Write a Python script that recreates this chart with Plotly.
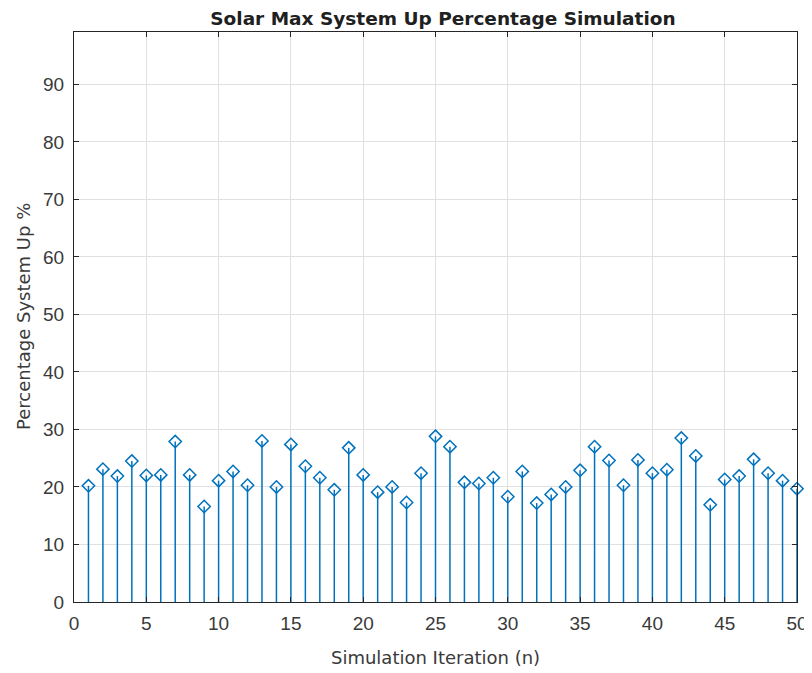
import plotly.graph_objects as go

iterations = list(range(1, 51))
percent_up = [20.2, 23.1, 21.9, 24.5, 22.0, 22.1, 27.9, 22.1, 16.6, 21.1,
              22.7, 20.3, 28.0, 20.0, 27.4, 23.6, 21.6, 19.5, 26.8, 22.1,
              19.1, 20.0, 17.3, 22.4, 28.8, 27.0, 20.8, 20.6, 21.6, 18.3,
              22.7, 17.2, 18.7, 20.0, 22.9, 27.0, 24.6, 20.3, 24.7, 22.4,
              23.0, 28.5, 25.4, 16.9, 21.3, 21.9, 24.8, 22.4, 21.1, 19.7]
x_ticks = list(range(0, 51, 5))
y_ticks = list(range(0, 91, 10))

color = "#0072BD"
sx, sy = [], []
for xi, yi in zip(iterations, percent_up):
    sx += [xi, xi, None]
    sy += [0, yi, None]

fig = go.Figure()
fig.add_trace(go.Scatter(x=sx, y=sy, mode="lines",
                         line=dict(color=color, width=1.5),
                         hoverinfo="skip", showlegend=False, cliponaxis=False))
fig.add_trace(go.Scatter(x=iterations, y=percent_up, mode="markers",
                         marker=dict(symbol="diamond-open", size=9.5,
                                     color=color, line=dict(width=1.5, color=color)),
                         showlegend=False, cliponaxis=False))

tick_font = dict(family="Liberation Sans, Arial", size=19, color="#3a3a3a")
label_font = dict(family="DejaVu Sans", size=18, color="#3a3a3a")

axis_common = dict(showline=True, linecolor="#262626", linewidth=1, mirror="ticks",
                   ticks="inside", ticklen=5, tickcolor="#262626",
                   showgrid=True, gridcolor="#e0e0e0", gridwidth=1, zeroline=False,
                   tickfont=tick_font)

fig.update_layout(
    width=804, height=665,
    paper_bgcolor="white", plot_bgcolor="white",
    margin=dict(l=66, r=15, t=24, b=71, autoexpand=False),
    title=dict(text="<b>Solar Max System Up Percentage Simulation</b>",
               x=0.541, xanchor="center", y=1 - 11 / 665, yanchor="middle",
               font=dict(family="DejaVu Sans", size=18.5, color="#202020")),
    xaxis=dict(range=[0, 50], tickvals=x_ticks, ticklabelstandoff=4, **axis_common),
    yaxis=dict(range=[0, 99.1], tickvals=y_ticks, ticklabelstandoff=5, **axis_common),
    annotations=[
        dict(text="Simulation Iteration (n)", xref="paper", yref="paper",
             x=0.5, y=0, xanchor="center", yanchor="middle", yshift=-55,
             showarrow=False, font=label_font),
        dict(text="Percentage System Up %", xref="paper", yref="paper",
             x=0, y=0.5, xanchor="center", yanchor="middle", xshift=-51,
             textangle=-90, showarrow=False, font=label_font),
    ],
)
fig.write_html("out.html")
